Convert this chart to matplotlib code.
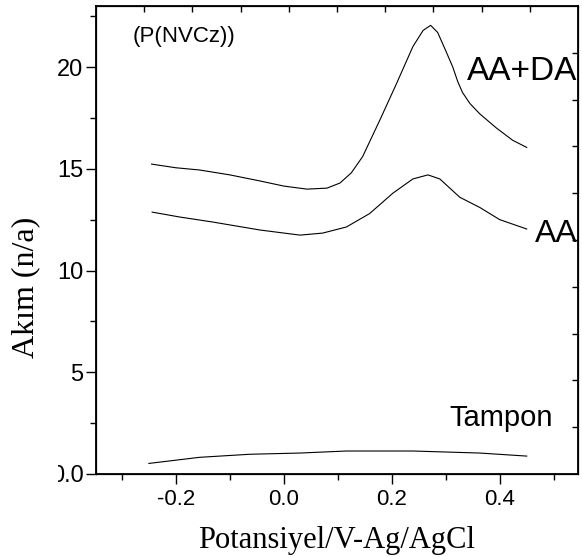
import numpy as np
import matplotlib
matplotlib.use('Agg')
import matplotlib.pyplot as plt
from matplotlib.transforms import Bbox

'''
Cyclic voltammetry style plot: P(NVCz) electrode in buffer, AA and AA+DA
'''

# potential (V vs Ag/AgCl) and current readings
pot_aada = [-0.245, -0.2, -0.156, -0.1, -0.044, 0.0, 0.043, 0.08, 0.104, 0.125,
            0.146, 0.178, 0.209, 0.239, 0.258, 0.272, 0.285, 0.3, 0.313, 0.322,
            0.331, 0.345, 0.363, 0.394, 0.424, 0.45]
cur_aada = [15.23, 15.05, 14.94, 14.7, 14.4, 14.15, 14.0, 14.05, 14.3, 14.8,
            15.6, 17.4, 19.2, 21.0, 21.8, 22.05, 21.7, 20.8, 20.0, 19.3,
            18.75, 18.2, 17.7, 17.0, 16.4, 16.05]

pot_aa = [-0.244, -0.193, -0.131, -0.044, 0.03, 0.072, 0.116, 0.159, 0.202,
          0.239, 0.267, 0.289, 0.326, 0.363, 0.4, 0.45]
cur_aa = [12.87, 12.63, 12.38, 11.99, 11.74, 11.84, 12.14, 12.8, 13.8,
          14.5, 14.7, 14.5, 13.6, 13.1, 12.5, 12.04]

pot_tampon = [-0.25, -0.156, -0.063, 0.03, 0.116, 0.239, 0.363, 0.45]
cur_tampon = [0.52, 0.82, 0.97, 1.03, 1.13, 1.13, 1.03, 0.88]

x_ticks = [-0.2, 0.0, 0.2, 0.4]
x_ticklabels = ['-0.2', '0.0', '0.2', '0.4']
y_ticks = [0, 5, 10, 15, 20]
y_ticklabels = ['0.0', '5', '10', '15', '20']

sans = ['Liberation Sans', 'DejaVu Sans']
serif = ['Liberation Serif', 'DejaVu Serif']

fig = plt.figure(figsize=(5.82, 5.57), dpi=100)
ax = fig.add_axes([96 / 582, 1 - 474 / 557, 482 / 582, 468 / 557])

ax.plot(pot_aada, cur_aada, color='black', lw=0.8)
ax.plot(pot_aa, cur_aa, color='black', lw=0.8)
ax.plot(pot_tampon, cur_tampon, color='black', lw=0.8)

ax.set_xlim(-0.348, 0.545)
ax.set_ylim(0, 23.0)

ax.set_xticks(x_ticks)
ax.set_xticklabels(x_ticklabels, family=sans, fontsize=16)
ax.set_xticks(np.arange(-0.3, 0.55, 0.2), minor=True)
ax.set_yticks(y_ticks)
ax.set_yticklabels(y_ticklabels, family=sans, fontsize=17)
ax.set_yticks(np.arange(2.5, 23, 5), minor=True)
ax.tick_params(which='major', direction='out', length=7, width=1.0, pad=2)
ax.tick_params(axis='x', which='major', pad=4)
ax.tick_params(which='minor', direction='out', length=4, width=1.0)
for s in ax.spines.values():
    s.set_linewidth(1.3)

# the 0.0 label is cut on its left side in the original
lbl0 = ax.get_yticklabels()[0]
lbl0.set_clip_on(True)
lbl0.set_clip_box(Bbox([[58, 0], [582, 557]]))

# mirrored frame ticks on top and right
top = ax.twiny()
top.set_xlim(0, 1)
top.set_xticks(np.arange(0.1, 0.95, 0.1))
top.tick_params(direction='in', length=4, width=1.0, labeltop=False)
right = ax.twinx()
right.set_ylim(0, 1)
right.set_yticks(np.arange(0.1, 0.95, 0.1))
right.tick_params(direction='in', length=4, width=1.0, labelright=False)

ax.text(-0.280, 21.5, '(P(NVCz))', family=sans, fontsize=16, va='center', ha='left')
ax.text(0.339, 19.36, 'AA+DA', family=sans, fontsize=24, va='baseline', ha='left')
ax.text(0.465, 11.4, 'AA', family=sans, fontsize=23, va='baseline', ha='left')
ax.text(0.307, 2.36, 'Tampon', family=sans, fontsize=21, va='baseline', ha='left')

fig.text(26 / 582, 1 - 287 / 557, 'Akım (n/a)', family=serif, fontsize=23,
         rotation=90, ha='center', va='center')
fig.text(337 / 582, 1 - 548 / 557, 'Potansiyel/V-Ag/AgCl', family=serif,
         fontsize=22, ha='center', va='baseline')

fig.savefig('out.png', dpi=100)
